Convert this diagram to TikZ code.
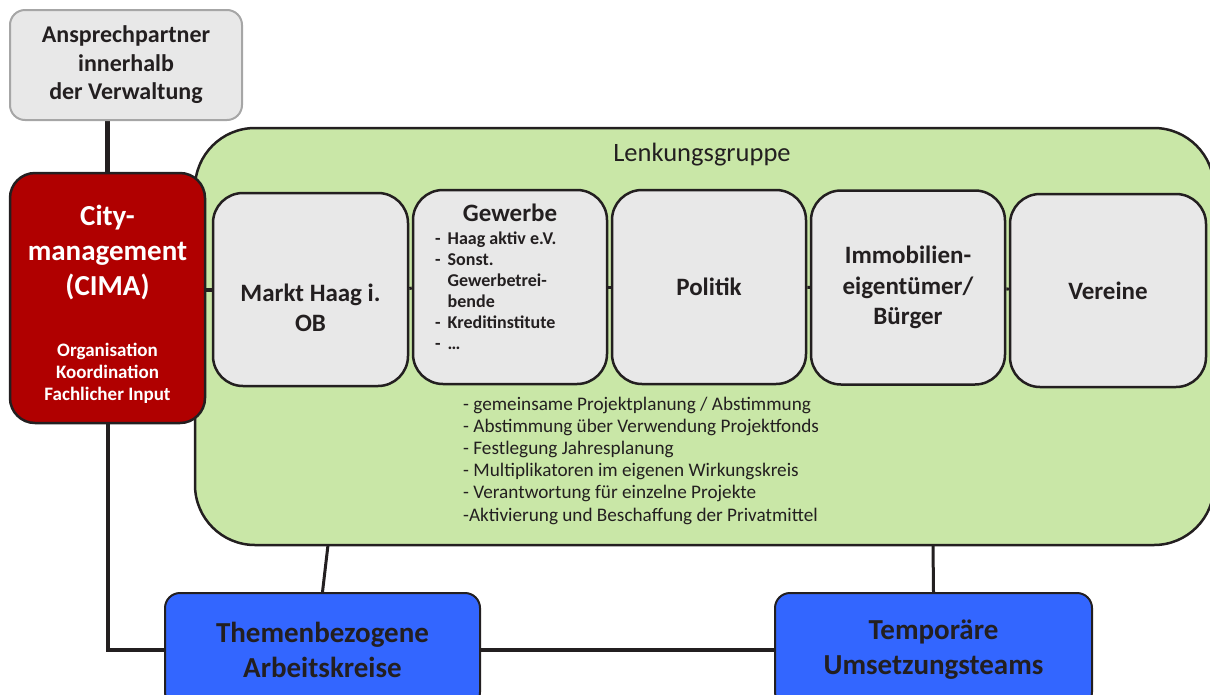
\documentclass[tikz,border=0pt]{standalone}
\usepackage{fontspec}
\setmainfont{Carlito}
\usepackage{tikz}
\pgfdeclarelayer{bg}
\pgfsetlayers{bg,main}
\definecolor{boxgray}{HTML}{E8E8E8}
\definecolor{rimgray}{HTML}{A6A6A6}
\definecolor{lenkgreen}{HTML}{C9E7A7}
\definecolor{cimared}{HTML}{B00000}
\definecolor{teamblue}{HTML}{3366FF}
\definecolor{inkblack}{HTML}{231F20}
\newcommand{\fsz}[2]{\fontsize{#1}{#2}\selectfont}
\tikzset{every picture/.append style={x=1pt, y=-1pt}}
\tikzset{
    every node/.style={inner sep=0pt, align=center, text=inkblack},
    ansbox/.style={rectangle, rounded corners=15pt, fill=boxgray, draw=rimgray,
        line width=2pt, minimum width=232pt, minimum height=110pt,
        font={\bfseries\fsz{24}{28.5}}},
    lenkbox/.style={rectangle, rounded corners=60pt, fill=lenkgreen, draw=inkblack,
        line width=2.5pt, minimum width=1019pt, minimum height=417pt},
    cimabox/.style={rectangle, rounded corners=25pt, fill=cimared, draw=inkblack,
        line width=2.5pt, minimum width=195pt, minimum height=250pt},
    innerbox/.style={rectangle, rounded corners=30pt, fill=boxgray, draw=inkblack,
        line width=2.5pt, minimum width=194pt, minimum height=194pt,
        font={\bfseries\fsz{25}{30.5}}},
    teambox/.style={rectangle, rounded corners=15pt, fill=teamblue, draw=inkblack,
        line width=2pt, minimum width=316pt, minimum height=114pt,
        font={\bfseries\fsz{29}{35}}},
    conn/.style={draw=inkblack, line width=3pt}
}

\begin{document}
\begin{tikzpicture}
  \useasboundingbox (0,0) rectangle (1210,694);
  \clip (0,0) rectangle (1210,694);

  \node (ansp) [ansbox] at (126,65) {Ansprechpartner\\innerhalb\\der Verwaltung};
  \node (lenk) [lenkbox] at (704.5,336.5) {};
  \node (lenk_t) [font={\fsz{26.5}{30}}] at (702,155) {Lenkungsgruppe};
  \node (cima) [cimabox] at (107.5,298) {};
  \node (cima_t) [text=white, font={\bfseries\fsz{29}{35}}] at (107.5,252.5)
    {City-\\management\\(CIMA)};
  \node (cima_a) [text=white, font={\bfseries\fsz{19}{22}}] at (107.5,373)
    {Organisation\\Koordination\\Fachlicher Input};

  \node (markt) [innerbox, minimum width=195pt, minimum height=193pt] at (310.5,289.5) {};
  \node (markt_t) [font={\bfseries\fsz{25}{30.5}}] at (310.5,308) {Markt Haag i.\\OB};
  \node (gew) [innerbox] at (510,287) {};
  \node (gew_t) [font={\bfseries\fsz{25}{30}}] at (510,213) {Gewerbe};
  \node (gew_l) [anchor=west, font={\bfseries\fsz{18}{21}}] at (435,293)
    {\begin{tabular}{@{}l@{\hspace{7pt}}l@{}}
      - & Haag aktiv e.V.\\
      - & Sonst.\\
        & Gewerbetrei-\\
        & bende\\
      - & Kreditinstitute\\
      - & \dots
    \end{tabular}};
  \node (pol) [innerbox] at (709,287) {Politik};
  \node (immo) [innerbox] at (908,287.5) {Immobilien-\\eigentümer/\\Bürger};
  \node (ver) [innerbox, minimum width=196pt, minimum height=193pt] at (1108,290.5) {Vereine};

  \node (aufg) [anchor=west, align=left, font={\fsz{19.2}{22.2}}] at (463,460.5)
    {- gemeinsame Projektplanung / Abstimmung\\
     - Abstimmung über Verwendung Projektfonds\\
     - Festlegung Jahresplanung\\
     - Multiplikatoren im eigenen Wirkungskreis\\
     - Verantwortung für einzelne Projekte\\
     -Aktivierung und Beschaffung der Privatmittel};

  \node (themen) [teambox, minimum width=315pt] at (322.5,650) {Themenbezogene\\Arbeitskreise};
  \node (temp) [teambox, minimum width=317pt] at (933.5,650) {Temporäre\\Umsetzungsteams};

  \coordinate (lk_a) at (328,545);
  \coordinate (lk_b) at (933,545);

  \begin{pgfonlayer}{bg}
    \draw [conn, line width=4pt] (cima.south) |- (temp.west);
    \draw [conn, line width=4.5pt] (cima.north) -- (cima.north |- ansp.south);
  \end{pgfonlayer}
  \draw [conn, line width=4pt] (markt.west) -- (markt.west -| cima.east);
  \draw [conn] (markt) edge (gew);
  \draw [conn] (gew) edge (pol);
  \draw [conn] (pol) edge (immo);
  \draw [conn] (immo) edge (ver);
  \draw [conn] (lk_a) -- (themen.north);
  \draw [conn] (lk_b) -- (temp.north);
\end{tikzpicture}
\end{document}
